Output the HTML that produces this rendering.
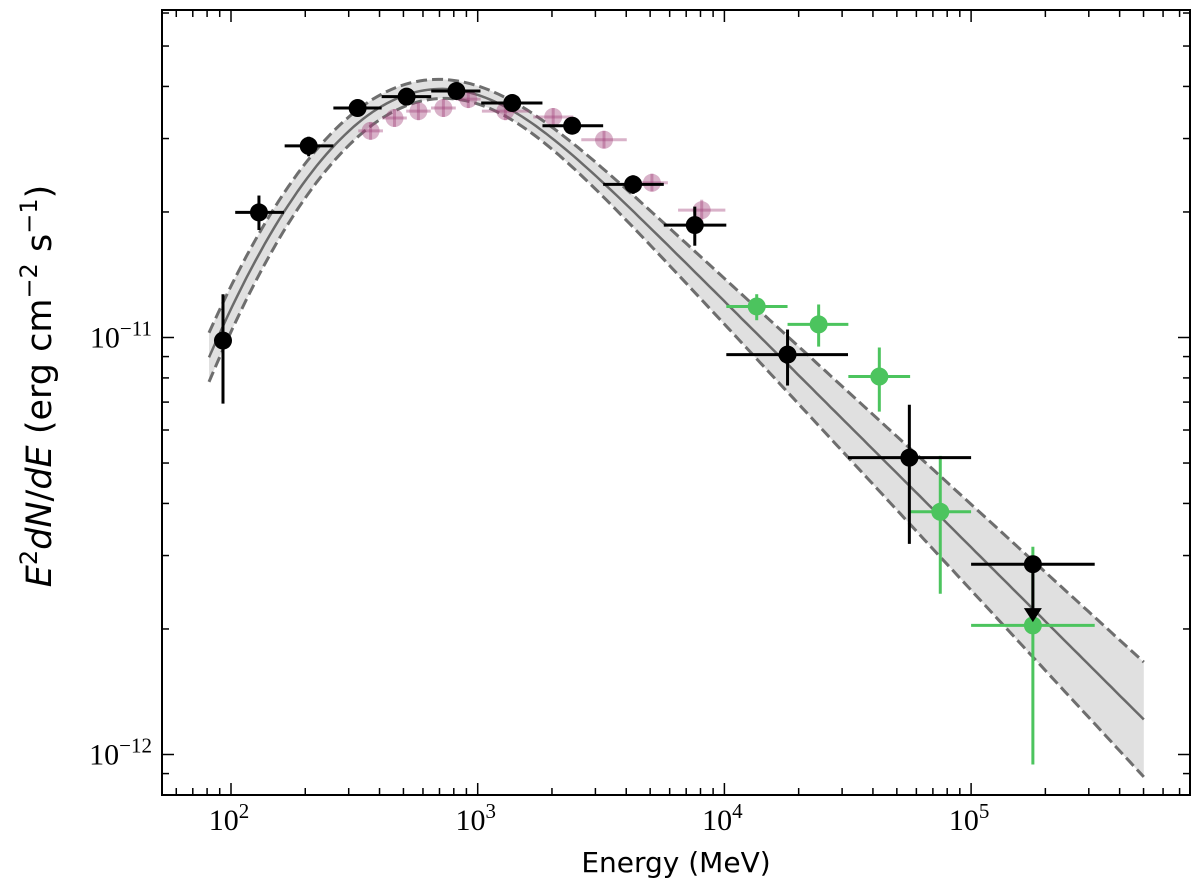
<!DOCTYPE html>
<html><head><meta charset="utf-8"><style>
html,body{margin:0;padding:0;background:#fff;}
svg{display:block;}
</style></head><body>
<svg id="chart" width="1200" height="895" viewBox="0 0 1200 895" xmlns="http://www.w3.org/2000/svg">
<g id="band"></g>
<g id="marks"></g>
<g id="axes"></g>
<text x="676" y="872" text-anchor="middle" font-family="DejaVu Sans, Liberation Sans, sans-serif" font-size="28">Energy (MeV)</text>
<text transform="translate(51,386) rotate(-90)" text-anchor="middle" font-family="DejaVu Sans, Liberation Sans, sans-serif" font-size="35"><tspan font-style="italic">E</tspan><tspan dy="-14" font-size="24">2</tspan><tspan dy="14" font-style="italic">dN</tspan>/<tspan font-style="italic">dE</tspan> (erg cm<tspan dy="-14" font-size="24">−2</tspan><tspan dy="14"> s</tspan><tspan dy="-14" font-size="24">−1</tspan><tspan dy="14">)</tspan></text>
</svg>
<script>
// ---- data ----
const blackE    = [92.8, 129.8, 206.5, 326, 515, 820, 1380, 2415, 4265, 7585, 18030, 56200];
const blackF    = [9.83e-12, 1.995e-11, 2.88e-11, 3.55e-11, 3.78e-11, 3.90e-11, 3.65e-11, 3.22e-11, 2.33e-11, 1.86e-11, 9.10e-12, 5.15e-12];
const blackElo  = [92.8, 104, 165, 260, 408, 648, 1033, 1830, 3225, 5680, 10180, 31700];
const blackEhi  = [92.8, 164, 260, 408, 648, 1026, 1830, 3225, 5680, 10180, 31700, 100000];
const blackFlo  = [6.94e-12, 1.81e-11, 2.72e-11, 3.45e-11, 3.68e-11, 3.80e-11, 3.55e-11, 3.12e-11, 2.21e-11, 1.66e-11, 7.67e-12, 3.20e-12];
const blackFhi  = [1.27e-11, 2.19e-11, 3.03e-11, 3.65e-11, 3.88e-11, 4.00e-11, 3.75e-11, 3.32e-11, 2.45e-11, 2.06e-11, 1.045e-11, 6.90e-12];
const ulE = [178000], ulF = [2.86e-12], ulElo = [100000], ulEhi = [317000], ulArrowTo = [2.10e-12];
const greenE   = [13520, 24100, 42460, 75000, 178000];
const greenF   = [1.187e-11, 1.075e-11, 8.06e-12, 3.82e-12, 2.04e-12];
const greenElo = [10180, 18030, 31800, 56600, 100000];
const greenEhi = [18030, 31800, 56600, 100000, 317000];
const greenFlo = [1.10e-11, 9.51e-12, 6.64e-12, 2.43e-12, 9.46e-13];
const greenFhi = [1.27e-11, 1.20e-11, 9.46e-12, 5.20e-12, 3.15e-12];
const pinkE   = [368, 460, 575, 726, 916, 1294, 2023, 3251, 5084, 8091];
const pinkF   = [3.13e-11, 3.36e-11, 3.49e-11, 3.55e-11, 3.73e-11, 3.49e-11, 3.38e-11, 2.98e-11, 2.35e-11, 2.02e-11];
const pinkElo = [328, 410, 513, 647, 816, 1040, 1680, 2630, 4380, 6490];
const pinkEhi = [413, 516, 645, 815, 1028, 1610, 2440, 4020, 5900, 10090];
const pinkFlo = [2.98e-11, 3.20e-11, 3.32e-11, 3.38e-11, 3.55e-11, 3.32e-11, 3.22e-11, 2.84e-11, 2.24e-11, 1.90e-11];
const pinkFhi = [3.28e-11, 3.53e-11, 3.66e-11, 3.73e-11, 3.91e-11, 3.66e-11, 3.55e-11, 3.13e-11, 2.47e-11, 2.14e-11];
const xTickExp = [2, 3, 4, 5];
const yTickExp = [-11, -12];

// ---- axes mapping ----
const L = 162, R = 1190, T = 10, B = 795;
function X(E){ return 231 + 246.7 * (Math.log10(E) - 2); }
function Y(F){ return 337.5 - 417 * (Math.log10(F) + 11); }
const NS = 'http://www.w3.org/2000/svg';
function mk(tag, attrs, parent){ const e = document.createElementNS(NS, tag); for (const k in attrs) e.setAttribute(k, attrs[k]); parent.appendChild(e); return e; }

// ---- model (curve, log space) ----
function model(t){
  const Lr = -10.618 - 0.59 * (t - 3.5);
  const w = 0.25, u = (3.302 - t) / w;
  const sp = u > 30 ? u : Math.log(1 + Math.exp(u));
  const d = 0.84 * w * sp;
  return Lr - d * d;
}
function halfw(t){ return Math.sqrt(81 + Math.pow(21 * (t - 3), 2)) / 417; }
const band = document.getElementById('band');
const t0 = 1.911, t1 = 5.70;
let up = [], lo = [], mid = [];
for (let i = 0; i <= 200; i++){
  const t = t0 + (t1 - t0) * i / 200, E = Math.pow(10, t), m = model(t), h = halfw(t);
  up.push([X(E), Y(Math.pow(10, m + h))]);
  lo.push([X(E), Y(Math.pow(10, m - h))]);
  mid.push([X(E), Y(Math.pow(10, m))]);
}
const pstr = a => a.map(p => p[0].toFixed(1) + ',' + p[1].toFixed(1)).join(' ');
const fill = mk('polygon', {points: pstr(up) + ' ' + pstr(lo.slice().reverse()), fill: '#e0e0e0', stroke: 'none'}, band);


const l1 = mk('polyline', {points: pstr(up), fill: 'none', stroke: '#6e6e6e', 'stroke-width': 3, 'stroke-dasharray': '11,5'}, band);


const l2 = mk('polyline', {points: pstr(lo), fill: 'none', stroke: '#6e6e6e', 'stroke-width': 3, 'stroke-dasharray': '11,5'}, band);


const l3 = mk('polyline', {points: pstr(mid), fill: 'none', stroke: '#6a6a6a', 'stroke-width': 2.5}, band);



// ---- points ----
const marks = document.getElementById('marks');
function series(E, F, Elo, Ehi, Flo, Fhi, color, opacity, r, sw, name){
  const g = mk('g', {}, marks);
  
  
  for (let i = 0; i < E.length; i++){
    const x = X(E[i]), y = Y(F[i]);
    const p = mk('g', {}, g);
    
    
    mk('line', {x1: X(Elo[i]), x2: X(Ehi[i]), y1: y, y2: y, stroke: color, 'stroke-width': sw, 'stroke-opacity': opacity}, p);
    mk('line', {x1: x, x2: x, y1: Y(Flo[i]), y2: Y(Fhi[i]), stroke: color, 'stroke-width': sw, 'stroke-opacity': opacity}, p);
    mk('circle', {cx: x, cy: y, r: r, fill: color, 'fill-opacity': opacity}, p);
  }
}
series(pinkE, pinkF, pinkElo, pinkEhi, pinkFlo, pinkFhi, '#a03e79', 0.4, 9, 3, 'pink-series');
series(greenE, greenF, greenElo, greenEhi, greenFlo, greenFhi, '#4cc45e', 1, 9, 3, 'green-series');
series(blackE, blackF, blackElo, blackEhi, blackFlo, blackFhi, '#000', 1, 9, 3, 'black-series');
for (let i = 0; i < ulE.length; i++){
  const g = mk('g', {}, marks);
  
  
  const x = X(ulE[i]), y = Y(ulF[i]), y2 = Y(ulArrowTo[i]);
  mk('line', {x1: X(ulElo[i]), x2: X(ulEhi[i]), y1: y, y2: y, stroke: '#000', 'stroke-width': 3}, g);
  mk('line', {x1: x, x2: x, y1: y, y2: y2 - 10, stroke: '#000', 'stroke-width': 3}, g);
  mk('polygon', {points: (x-9)+','+(y2-12)+' '+(x+9)+','+(y2-12)+' '+x+','+(y2+2), fill: '#000'}, g);
  mk('circle', {cx: x, cy: y, r: 9, fill: '#000'}, g);
}

// ---- axes ----
const ax = document.getElementById('axes');
const frame = mk('rect', {x: L, y: T, width: R - L, height: B - T, fill: 'none', stroke: '#000', 'stroke-width': 2}, ax);


for (let d = 1; d <= 5; d++){
  for (let m = 1; m <= 9; m++){
    const x = X(m * Math.pow(10, d));
    if (x < L + 1 || x > R - 1) continue;
    const len = m === 1 ? 12 : 7;
    mk('line', {x1: x, x2: x, y1: B, y2: B - len, stroke: '#000', 'stroke-width': 1.5}, ax);
    mk('line', {x1: x, x2: x, y1: T, y2: T + len, stroke: '#000', 'stroke-width': 1.5}, ax);
  }
}
for (let d = -13; d <= -10; d++){
  for (let m = 1; m <= 9; m++){
    const y = Y(m * Math.pow(10, d));
    if (y < T + 1 || y > B - 1) continue;
    const len = m === 1 ? 12 : 7;
    mk('line', {x1: L, x2: L + len, y1: y, y2: y, stroke: '#000', 'stroke-width': 1.5}, ax);
    mk('line', {x1: R, x2: R - len, y1: y, y2: y, stroke: '#000', 'stroke-width': 1.5}, ax);
  }
}
xTickExp.forEach(e => {
  const t = mk('text', {x: X(Math.pow(10, e)) - 2, y: 830, 'text-anchor': 'middle', 'font-family': 'Liberation Serif, serif', 'font-size': 30}, ax);
  
  
  t.innerHTML = '10<tspan dy="-12" font-size="21">' + e + '</tspan>';
});
yTickExp.forEach(e => {
  const t = mk('text', {x: 152, y: Y(Math.pow(10, e)) + 10, 'text-anchor': 'end', 'font-family': 'Liberation Serif, serif', 'font-size': 30}, ax);
  
  
  t.innerHTML = '10<tspan dy="-12" font-size="21">−' + Math.abs(e) + '</tspan>';
});
</script>
</body></html>
